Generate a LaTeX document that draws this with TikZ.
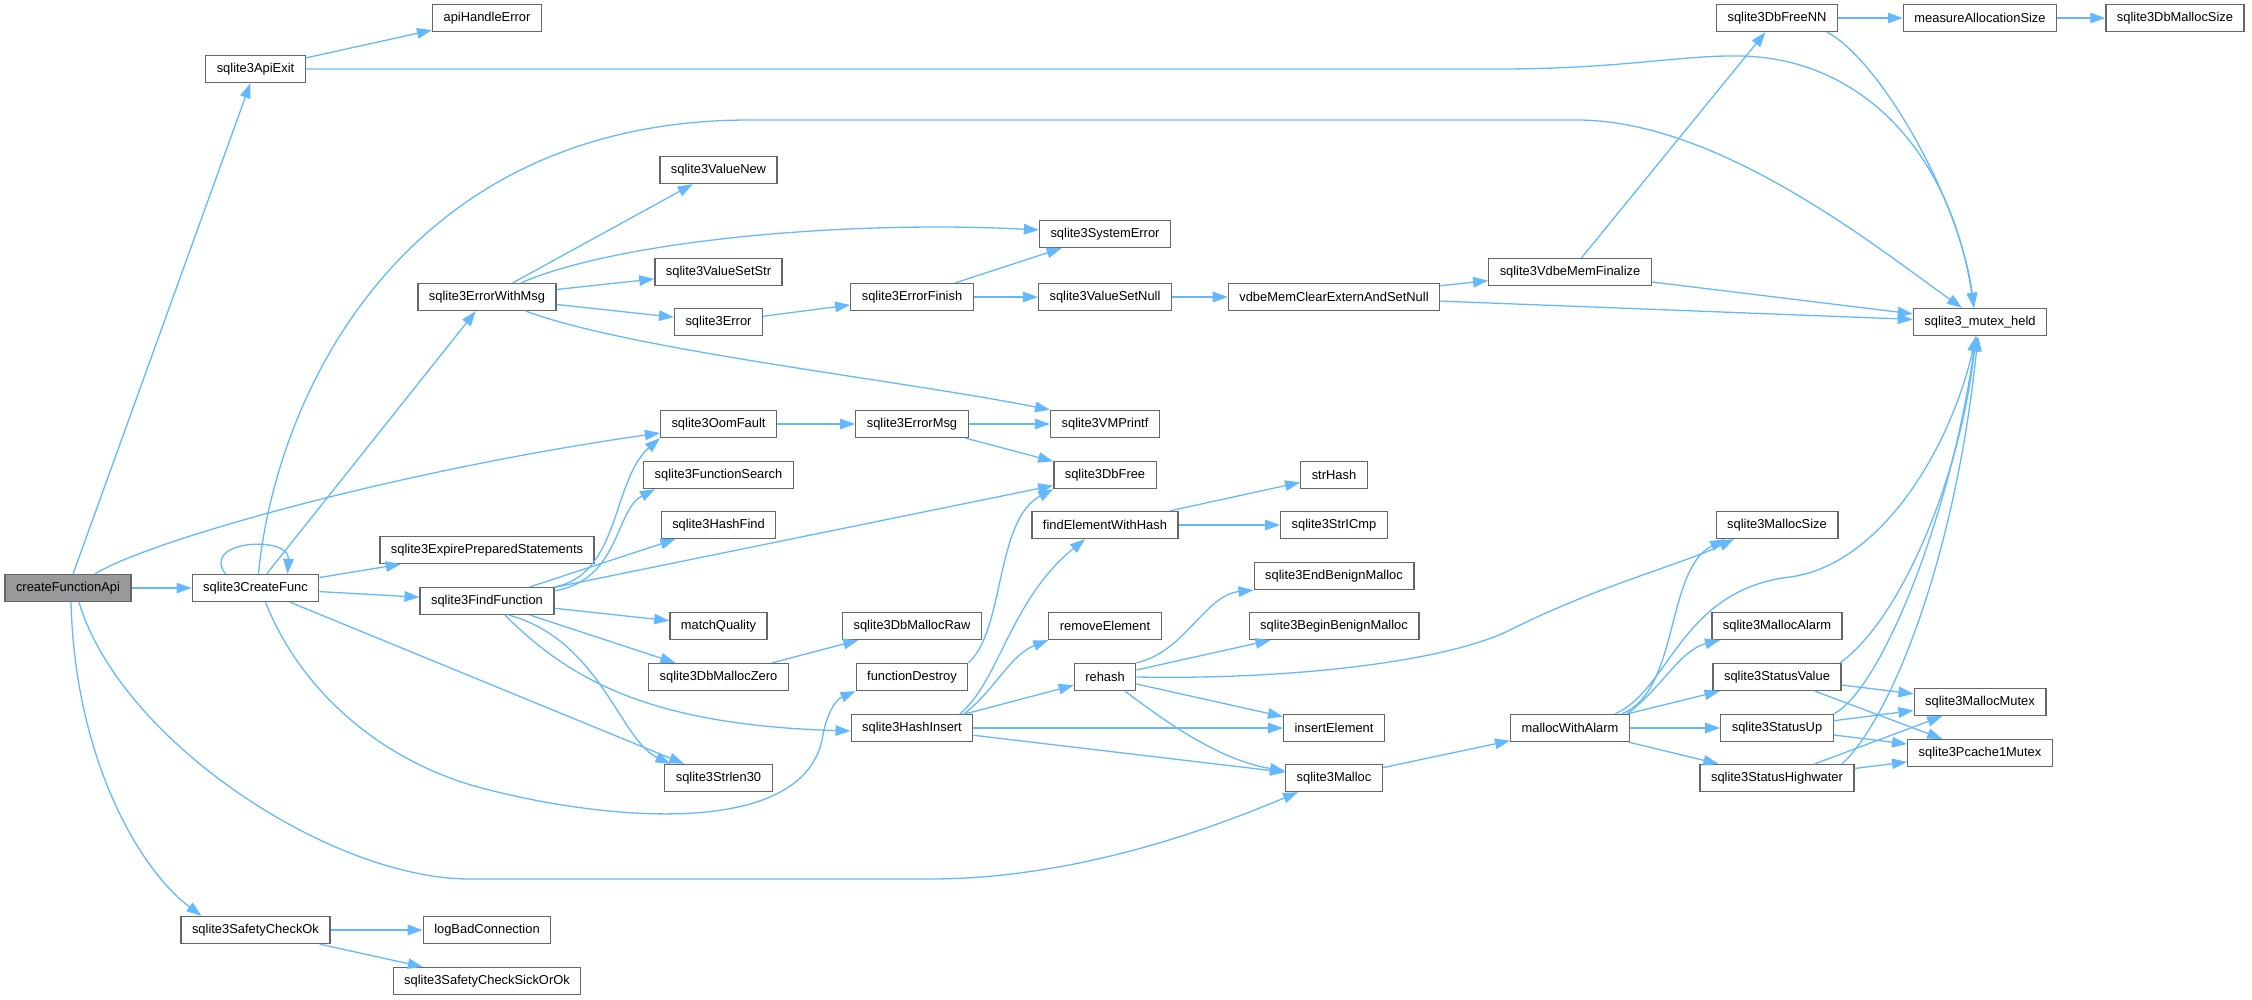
\documentclass[tikz,border=0pt]{standalone}
\usepackage{fontspec}
\setmainfont{Liberation Sans}
\usetikzlibrary{arrows.meta}
\definecolor{edgeblue}{HTML}{63B8FF}
\definecolor{boxgray}{HTML}{666666}
\definecolor{rootgray}{HTML}{999999}
\tikzset{
  fn/.style={draw=boxgray, line width=1.3pt, fill=white, minimum height=27pt,
    inner xsep=11pt, inner ysep=2pt, font=\fontsize{12.9}{15}\selectfont},
  root/.style={fn, fill=rootgray},
  call/.style={edgeblue, line width=1.3pt, -{Triangle[length=15pt,width=10.5pt]}}
}
\begin{document}
\begin{tikzpicture}[x=1pt, y=-1pt]
	\useasboundingbox (0,0) rectangle (2252,1000);
	\node[root] (createFunctionApi) at (68,588) {createFunctionApi};
	\foreach \n/\y in
	{sqlite3ApiExit/69, sqlite3CreateFunc/588, sqlite3SafetyCheckOk/930}{
		\node[fn] (\n) at (255.5,\y) {\n};
	}
	\foreach \n/\y in
	{apiHandleError/18, sqlite3ErrorWithMsg/297, sqlite3ExpirePreparedStatements/550,
	 sqlite3FindFunction/601, logBadConnection/930, sqlite3SafetyCheckSickOrOk/981}{
		\node[fn] (\n) at (487,\y) {\n};
	}
	\foreach \n/\y in
	{sqlite3ValueNew/170, sqlite3ValueSetStr/272, sqlite3Error/322, sqlite3OomFault/424,
	 sqlite3FunctionSearch/475, sqlite3HashFind/525, matchQuality/626,
	 sqlite3DbMallocZero/677, sqlite3Strlen30/778}{
		\node[fn] (\n) at (718.5,\y) {\n};
	}
	\foreach \n/\y in
	{sqlite3ErrorFinish/297, sqlite3ErrorMsg/424, sqlite3DbMallocRaw/626,
	 functionDestroy/677, sqlite3HashInsert/728}{
		\node[fn] (\n) at (912,\y) {\n};
	}
	\foreach \n/\y in
	{sqlite3SystemError/234, sqlite3ValueSetNull/297, sqlite3VMPrintf/424, sqlite3DbFree/475,
	 findElementWithHash/525, removeElement/626, rehash/677}{
		\node[fn] (\n) at (1105,\y) {\n};
	}
	\foreach \n/\y in
	{vdbeMemClearExternAndSetNull/297, strHash/475, sqlite3StrICmp/525,
	 sqlite3EndBenignMalloc/576, sqlite3BeginBenignMalloc/626, insertElement/728,
	 sqlite3Malloc/778}{
		\node[fn] (\n) at (1334,\y) {\n};
	}
	\foreach \n/\y in
	{sqlite3VdbeMemFinalize/272, mallocWithAlarm/728}{
		\node[fn] (\n) at (1570,\y) {\n};
	}
	\foreach \n/\y in
	{sqlite3DbFreeNN/18, sqlite3MallocSize/525, sqlite3MallocAlarm/626,
	 sqlite3StatusValue/677, sqlite3StatusUp/728, sqlite3StatusHighwater/778}{
		\node[fn] (\n) at (1777,\y) {\n};
	}
	\foreach \n/\y in
	{measureAllocationSize/18, sqlite3MallocMutex/702, sqlite3Pcache1Mutex/753}{
		\node[fn] (\n) at (1980,\y) {\n};
	}
	\node[fn] (mutexheld) at (1980,322) {sqlite3\_mutex\_held};
	\node[fn] (sqlite3DbMallocSize) at (2175,18) {sqlite3DbMallocSize};
	
	% straight calls
	\foreach \a/\b in
	{createFunctionApi/sqlite3ApiExit, createFunctionApi/sqlite3CreateFunc,
	 sqlite3ApiExit/apiHandleError, sqlite3CreateFunc/sqlite3ErrorWithMsg,
	 sqlite3CreateFunc/sqlite3ExpirePreparedStatements, sqlite3CreateFunc/sqlite3FindFunction,
	 sqlite3CreateFunc/sqlite3Strlen30, sqlite3SafetyCheckOk/logBadConnection,
	 sqlite3SafetyCheckOk/sqlite3SafetyCheckSickOrOk, sqlite3ErrorWithMsg/sqlite3ValueNew,
	 sqlite3ErrorWithMsg/sqlite3ValueSetStr, sqlite3ErrorWithMsg/sqlite3Error,
	 sqlite3FindFunction/sqlite3HashFind, sqlite3FindFunction/sqlite3DbFree,
	 sqlite3FindFunction/matchQuality, sqlite3FindFunction/sqlite3DbMallocZero,
	 sqlite3OomFault/sqlite3ErrorMsg, sqlite3Error/sqlite3ErrorFinish,
	 sqlite3DbMallocZero/sqlite3DbMallocRaw, sqlite3ErrorFinish/sqlite3SystemError,
	 sqlite3ErrorFinish/sqlite3ValueSetNull, sqlite3ErrorMsg/sqlite3VMPrintf,
	 sqlite3ErrorMsg/sqlite3DbFree, sqlite3HashInsert/rehash, sqlite3HashInsert/insertElement,
	 sqlite3HashInsert/sqlite3Malloc, sqlite3ValueSetNull/vdbeMemClearExternAndSetNull,
	 findElementWithHash/strHash, findElementWithHash/sqlite3StrICmp,
	 rehash/sqlite3BeginBenignMalloc, rehash/insertElement,
	 vdbeMemClearExternAndSetNull/sqlite3VdbeMemFinalize, vdbeMemClearExternAndSetNull/mutexheld,
	 sqlite3Malloc/mallocWithAlarm, sqlite3VdbeMemFinalize/sqlite3DbFreeNN,
	 sqlite3VdbeMemFinalize/mutexheld, sqlite3DbFreeNN/measureAllocationSize,
	 measureAllocationSize/sqlite3DbMallocSize, mallocWithAlarm/sqlite3StatusValue,
	 mallocWithAlarm/sqlite3StatusUp, mallocWithAlarm/sqlite3StatusHighwater,
	 sqlite3StatusValue/sqlite3MallocMutex, sqlite3StatusValue/sqlite3Pcache1Mutex,
	 sqlite3StatusUp/sqlite3MallocMutex, sqlite3StatusUp/sqlite3Pcache1Mutex,
	 sqlite3StatusHighwater/sqlite3MallocMutex, sqlite3StatusHighwater/sqlite3Pcache1Mutex}{
		\draw[call] (\a)--(\b);
	}
	
	% curved calls
	\draw[call] ([xshift=27]createFunctionApi.north) .. controls (150,540) and (400,470) .. ([yshift=-9]sqlite3OomFault.west);
	\draw[call] ([xshift=11]createFunctionApi.south) .. controls (120,740) and (330,879) .. (470,879) -- (930,879) .. controls (1080,879) and (1220,825) .. ([xshift=-36]sqlite3Malloc.south);
	\draw[call] ([xshift=3]createFunctionApi.south) .. controls (75,760) and (140,870) .. ([xshift=-54]sqlite3SafetyCheckOk.north);
	\draw[call] (sqlite3ApiExit.east) -- (1500,69) .. controls (1620,69) and (1680,55) .. (1740,56) .. controls (1860,58) and (1950,150) .. ([xshift=-6]mutexheld.north);
	\draw[call] ([xshift=-30]sqlite3CreateFunc.north) .. controls (200,540) and (290,535) .. ([xshift=32]sqlite3CreateFunc.north);
	\draw[call] ([xshift=3]sqlite3CreateFunc.north) .. controls (275,400) and (400,120) .. (750,120) -- (1577,120) .. controls (1720,120) and (1880,250) .. ([xshift=-18]mutexheld.north);
	\draw[call] ([xshift=10]sqlite3CreateFunc.south) .. controls (300,690) and (380,760) .. (478,787) .. controls (600,820) and (800,840) .. (822,740) .. controls (826,715) and (835,700) .. (functionDestroy.south west);
	\draw[call] ([xshift=34]sqlite3ErrorWithMsg.north) .. controls (620,240) and (850,220) .. ([yshift=4]sqlite3SystemError.west);
	\draw[call] ([xshift=39]sqlite3ErrorWithMsg.south) .. controls (630,350) and (900,380) .. (sqlite3VMPrintf.north west);
	\draw[call] (sqlite3FindFunction.north east) .. controls (620,575) and (612,480) .. (sqlite3OomFault.south west);
	\draw[call] ([yshift=-4]sqlite3FindFunction.north east) .. controls (620,580) and (615,510) .. ([xshift=12]sqlite3FunctionSearch.south west);
	\draw[call] ([xshift=22]sqlite3FindFunction.south) .. controls (600,640) and (620,740) .. ([xshift=-48]sqlite3Strlen30.north);
	\draw[call] ([xshift=18]sqlite3FindFunction.south) .. controls (570,680) and (650,725) .. ([yshift=-3]sqlite3HashInsert.west);
	\draw[call] (functionDestroy.north east) .. controls (1005,630) and (995,520) .. (sqlite3DbFree.south west);
	\draw[call] ([xshift=48]sqlite3HashInsert.north) .. controls (1000,680) and (1010,600) .. ([xshift=-20]findElementWithHash.south);
	\draw[call] ([xshift=52]sqlite3HashInsert.north) .. controls (995,690) and (1010,655) .. (removeElement.south west);
	\draw[call] (rehash.north east) .. controls (1185,652) and (1205,595) .. (sqlite3EndBenignMalloc.south west);
	\draw[call] (rehash.east) .. controls (1300,680) and (1450,660) .. (1510,630) .. controls (1600,585) and (1680,565) .. ([xshift=-43]sqlite3MallocSize.south);
	\draw[call] ([xshift=20]rehash.south) .. controls (1170,725) and (1220,760) .. ([yshift=7]sqlite3Malloc.west);
	\draw[call] ([xshift=50]sqlite3DbFreeNN.south) .. controls (1880,60) and (1960,200) .. ([xshift=-6]mutexheld.north);
	\draw[call] ([xshift=52]mallocWithAlarm.north) .. controls (1680,690) and (1665,570) .. ([xshift=-52]sqlite3MallocSize.south);
	\draw[call] ([xshift=45]mallocWithAlarm.north) .. controls (1670,690) and (1680,590) .. (1790,577) .. controls (1880,565) and (1950,450) .. ([xshift=-4]mutexheld.south);
	\draw[call] ([xshift=57]mallocWithAlarm.north) .. controls (1660,690) and (1680,650) .. ([xshift=-57]sqlite3MallocAlarm.south);
	\draw[call] ([xshift=63]sqlite3StatusValue.north) .. controls (1900,620) and (1960,480) .. ([xshift=-4]mutexheld.south);
	\draw[call] (sqlite3StatusUp.north east) .. controls (1880,690) and (1950,520) .. ([xshift=-4]mutexheld.south);
	\draw[call] ([xshift=65]sqlite3StatusHighwater.north) .. controls (1890,720) and (1955,560) .. ([xshift=-2]mutexheld.south);
\end{tikzpicture}
\end{document}
